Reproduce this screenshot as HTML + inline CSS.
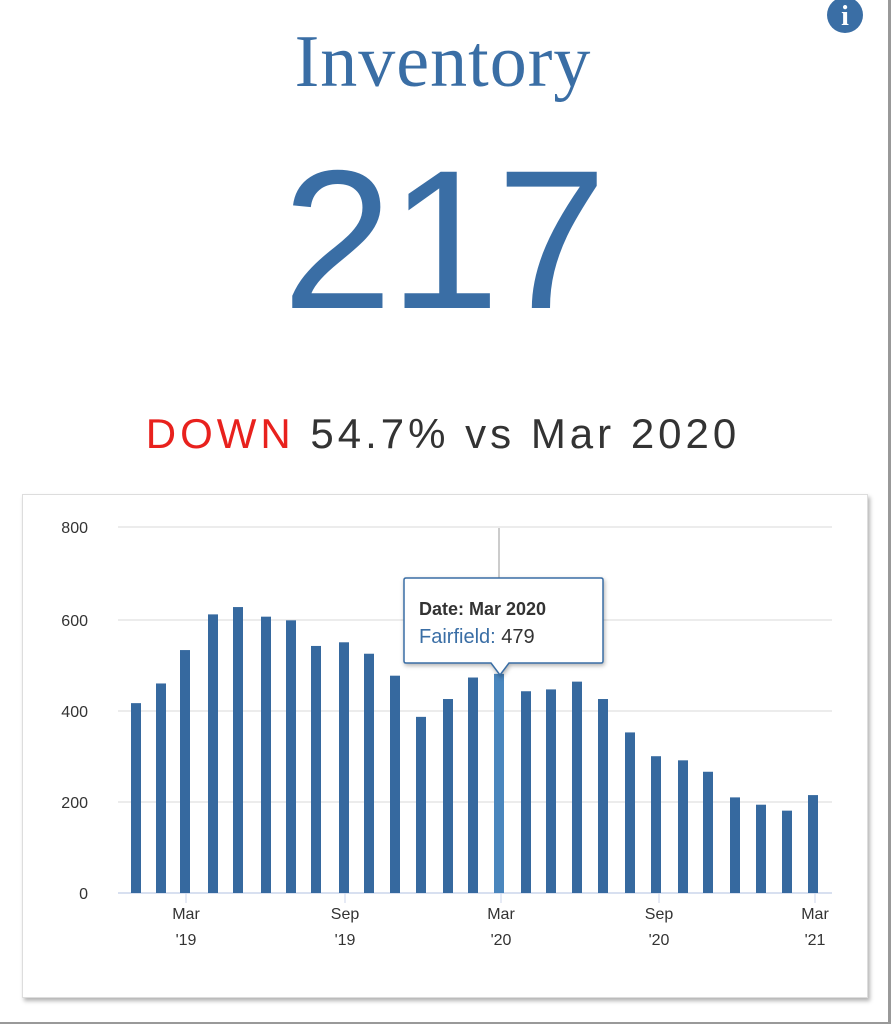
<!DOCTYPE html>
<html><head><style>
body{margin:0;width:891px;height:1024px;background:#fff;position:relative;overflow:hidden;font-family:"Liberation Sans",sans-serif}
.t{position:absolute;left:0;width:886px;text-align:center}
</style></head><body>
<div style="position:absolute;right:0;top:0;width:3px;height:1024px;background:#999"></div>
<div style="position:absolute;left:0;bottom:0;width:891px;height:2px;background:#999"></div>
<svg style="position:absolute;left:826px;top:0" width="40" height="34"><circle cx="19" cy="15" r="18" fill="#3a6ea5"/><text x="19" y="25" text-anchor="middle" font-family="Liberation Serif" font-weight="bold" font-size="28" fill="#fff">i</text></svg>
<div class="t" style="top:20px;font-family:'Liberation Serif',serif;font-size:74px;color:#3a6ea5;letter-spacing:1px">Inventory</div>
<div class="t" style="top:141px;font-size:198px;line-height:198px;color:#3a6ea5;letter-spacing:-3px">217</div>
<div class="t" style="top:410px;font-size:42px;color:#333;letter-spacing:4px"><span style="color:#e8211d">DOWN</span> 54.7% vs Mar 2020</div>
<div style="position:absolute;left:22px;top:494px;width:844px;height:502px;border:1px solid #ddd;box-shadow:2px 3px 4px rgba(0,0,0,.3);background:#fff"></div>
<svg style="position:absolute;left:0;top:0" width="891" height="1024" font-family="Liberation Sans,sans-serif">
<g stroke="#e6e6e6" stroke-width="1.5">
<line x1="118" x2="832" y1="527" y2="527"/><line x1="118" x2="832" y1="620" y2="620"/><line x1="118" x2="832" y1="711" y2="711"/><line x1="118" x2="832" y1="802" y2="802"/></g>
<line x1="118" x2="832" y1="893" y2="893" stroke="#ccd6eb" stroke-width="1.5"/>
<g font-size="16" fill="#333" text-anchor="end"><text x="88" y="533">800</text><text x="88" y="626">600</text><text x="88" y="717">400</text><text x="88" y="808">200</text><text x="88" y="899">0</text></g>
<line x1="499" x2="499" y1="528" y2="580" stroke="#999"/>
<g fill="#36699f" id="b"></g>
<g font-size="16" fill="#333" text-anchor="middle">
<text x="186" y="919">Mar</text><text x="186" y="945">'19</text>
<text x="345" y="919">Sep</text><text x="345" y="945">'19</text>
<text x="501" y="919">Mar</text><text x="501" y="945">'20</text>
<text x="659" y="919">Sep</text><text x="659" y="945">'20</text>
<text x="815" y="919">Mar</text><text x="815" y="945">'21</text></g>
<g stroke="#ccd6eb"><line x1="186" x2="186" y1="893" y2="903"/><line x1="345" x2="345" y1="893" y2="903"/><line x1="501" x2="501" y1="893" y2="903"/><line x1="659" x2="659" y1="893" y2="903"/><line x1="815" x2="815" y1="893" y2="903"/></g>
<path d="M406 578H601Q603 578 603 580V661Q603 663 601 663H509L500 675L491 663H406Q404 663 404 661V580Q404 578 406 578Z" fill="#fff" stroke="#3a6ea5" stroke-width="1.5" style="filter:drop-shadow(1px 2px 2px rgba(0,0,0,.3))"/>
<text x="419" y="615" font-size="18" font-weight="bold" fill="#333">Date: Mar 2020</text>
<text x="419" y="643" font-size="20" fill="#333"><tspan fill="#3a6ea5">Fairfield:</tspan> 479</text>
</svg>
<script>
var xs=[136,161,185,213,238,266,291,316,344,369,395,421,448,473,499,526,551,577,603,630,656,683,708,735,761,787,813];
var v=[415,458,531,609,625,604,596,540,548,523,475,385,424,471,479,441,445,462,424,351,299,290,265,209,193,180,214];
var g=document.getElementById('b'),s='';
for(var i=0;i<xs.length;i++){var h=v[i]*0.4575;s+='<rect x="'+(xs[i]-5)+'" y="'+(893-h)+'" width="10" height="'+h+'"'+(i==14?' fill="#4a86bd"':'')+'/>';}
g.innerHTML=s;
</script>
</body></html>
